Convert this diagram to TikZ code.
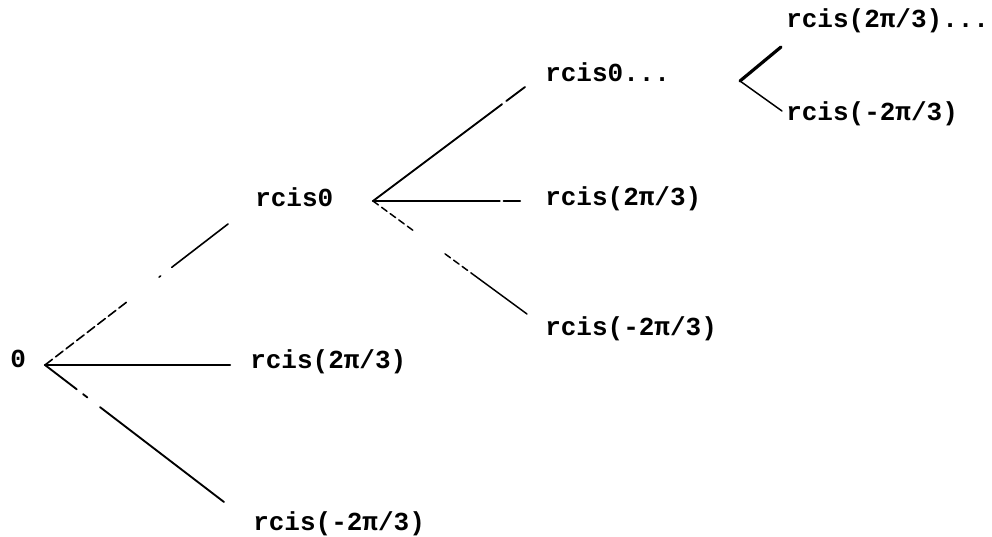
\documentclass[tikz,border=0pt]{standalone}
\usepackage{fontspec}
\setmonofont{Liberation Mono}
\begin{document}
\begin{tikzpicture}[x=0.75pt,y=-0.75pt,
  lbl/.style={anchor=mid west,inner sep=0pt,font=\ttfamily\bfseries\fontsize{19.5}{24}\selectfont},
  branch/.style={line width=1.4pt,line cap=round}]
\useasboundingbox (0,0) rectangle (992,536);

% labels of the tree
\node[lbl] (root) at (10,365) {0};
\node[lbl] (a1) at (255,204) {rcis0};
\node[lbl] (a2) at (250,366) {rcis(2π/3)};
\node[lbl] (a3) at (253,528) {rcis(-2π/3)};
\node[lbl] (b1) at (545,79) {rcis0...};
\node[lbl] (b2) at (545,203) {rcis(2π/3)};
\node[lbl] (b3) at (545,333) {rcis(-2π/3)};
\node[lbl] (c1) at (786,25) {rcis(2π/3)...};
\node[lbl] (c2) at (786,118) {rcis(-2π/3)};

% branch points and free ends of the connectors
\coordinate (p0) at (45,365);
\coordinate (e1) at (228,224);
\coordinate (e2) at (230,365);
\coordinate (e3) at (224,502);
\coordinate (p1) at (373,201);
\coordinate (f1) at (525,87);
\coordinate (f2) at (520,201);
\coordinate (f3) at (527,314);
\coordinate (p2) at (740,81);
\coordinate (g1) at (781,47);
\coordinate (g2) at (782,111);

% first level
\draw[branch,line width=1.2pt,dash pattern=on 7pt off 3pt on 7pt off 3pt on 7pt off 3pt on 7pt off 3pt on 7pt off 3pt on 7pt off 3pt on 7pt off 3pt on 7pt off 31pt on 1.5pt off 10.5pt on 100pt off 1pt] (p0) -- (e1);
\draw[branch,line width=1.7pt] (p0) -- (e2);
\draw[branch,dash pattern=on 30pt off 6pt on 4pt off 12pt on 130pt off 1pt] (p0) -- (e3);
% second level
\draw[branch,dash pattern=on 121pt off 4pt on 30pt off 1pt] (p1) -- (f1);
\draw[branch,line width=1.7pt,dash pattern=on 95pt off 3pt on 30pt off 1pt] (p1) -- (f2);
\draw[branch,line width=1.1pt,dash pattern=on 5pt off 3pt on 5pt off 3pt on 5pt off 3pt on 5pt off 3pt on 5pt off 30pt on 5pt off 3pt on 5pt off 3pt on 5pt off 3pt on 80pt off 1pt] (p1) -- (f3);
% third level
\draw[branch,line width=2.4pt] (p2) -- (g1);
\draw[branch,line width=1.1pt] (p2) -- (g2);
\end{tikzpicture}
\end{document}
